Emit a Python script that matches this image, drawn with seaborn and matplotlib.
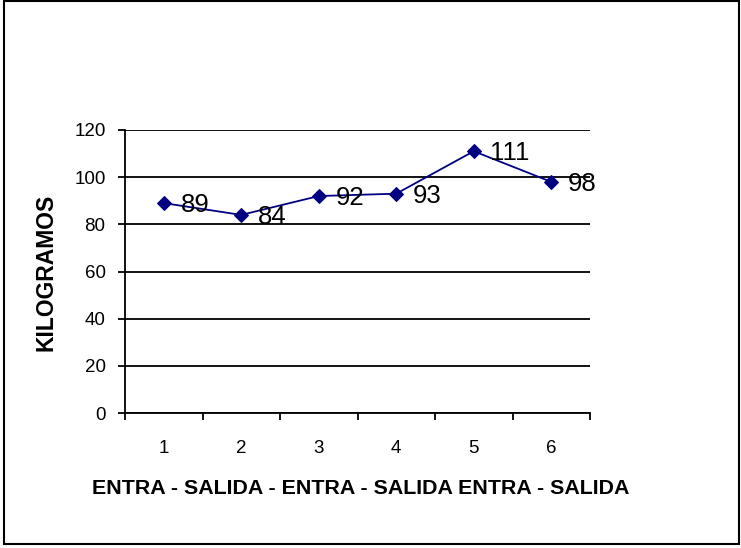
import matplotlib
matplotlib.use("Agg")
import matplotlib.pyplot as plt
import seaborn as sns
import pandas as pd
from matplotlib.patches import Rectangle
from matplotlib.ticker import FixedLocator

categories = ["1", "2", "3", "4", "5", "6"]
kilogramos = [89, 84, 92, 93, 111, 98]
y_ticks = [0, 20, 40, 60, 80, 100, 120]

sns.set_theme(style="white")
plt.rcParams["font.family"] = ["Liberation Sans", "DejaVu Sans"]
plt.rcParams["text.color"] = "black"

W, H = 741, 548
fig = plt.figure(figsize=(W / 100, H / 100), dpi=100)
ax = fig.add_axes([125 / W, 1 - 413 / H, (590 - 125) / W, (413 - 130) / H])

df = pd.DataFrame({"pos": range(len(categories)), "kg": kilogramos})
sns.lineplot(data=df, x="pos", y="kg", ax=ax, color="#000080", linewidth=1.3,
             marker="D", markersize=7.5, markeredgecolor="#000080")

for x, v in zip(df["pos"], df["kg"]):
    ax.annotate(str(v), (x, v), xytext=(12, -1.5), textcoords="offset points",
                ha="left", va="center", fontsize=18.5, color="black")

ax.set_xlim(-0.5, len(categories) - 0.5)
ax.set_ylim(0, 120)
ax.set_yticks(y_ticks)
ax.set_yticklabels([str(t) for t in y_ticks], fontsize=13.5)
ax.set_xticks(range(len(categories)))
ax.set_xticklabels(categories, fontsize=13.5)
ax.xaxis.set_minor_locator(FixedLocator([i - 0.5 for i in range(len(categories) + 1)]))
ax.tick_params(axis="x", which="major", length=0, pad=19.5, colors="black")
ax.tick_params(axis="x", which="minor", length=5, width=1.3, direction="out",
               bottom=True, color="black")
ax.tick_params(axis="y", which="major", length=5, width=1.3, direction="out",
               left=True, pad=9, colors="black")

ax.grid(axis="y", color="black", linewidth=1.3)
ax.set_axisbelow(True)
for side in ["top", "right"]:
    ax.spines[side].set_visible(False)
for side in ["left", "bottom"]:
    ax.spines[side].set_color("black")
    ax.spines[side].set_linewidth(1.3)

ax.set_xlabel("")
ax.set_ylabel("")
fig.text(46 / W, 1 - 272 / H, "KILOGRAMOS", rotation=90, ha="center", va="center",
         fontsize=16.5, fontweight="bold", color="black")
fig.text(92 / W, 1 - 488 / H, "ENTRA - SALIDA - ENTRA - SALIDA ENTRA - SALIDA",
         ha="left", va="center", fontsize=15.4, fontweight="bold", color="black")

fig.patches.append(Rectangle((4 / W, 1 - 544 / H), 735 / W, 543 / H,
                             transform=fig.transFigure, fill=False,
                             edgecolor="black", linewidth=1.5))

fig.savefig("out.png", dpi=100)
